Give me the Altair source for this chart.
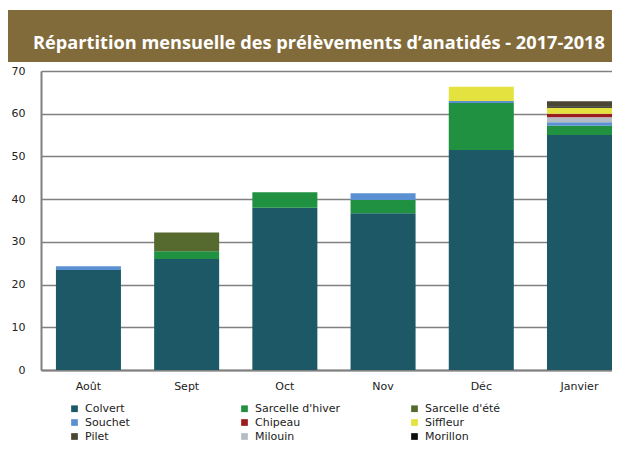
import altair as alt
import pandas as pd

months = ["Août", "Sept", "Oct", "Nov", "Déc", "Janvier"]

# legend order (row-major, 3 columns)
species = ["Colvert", "Sarcelle d'hiver", "Sarcelle d'été",
           "Souchet", "Chipeau", "Siffleur",
           "Pilet", "Milouin", "Morillon"]
colors = ["#1d5866", "#1f9141", "#56692f",
          "#5b90d2", "#9c1d1f", "#e3e23f",
          "#4b4632", "#b4bcc4", "#0e0e10"]
# stacking order from bottom to top
stack_order = ["Colvert", "Sarcelle d'hiver", "Sarcelle d'été", "Souchet",
               "Milouin", "Chipeau", "Siffleur", "Morillon", "Pilet"]

colvert          = [23.4, 26.0, 38.0, 36.7, 51.5, 55.0]
sarcelle_hiver   = [0.0, 1.8, 3.6, 3.1, 11.0, 2.2]
sarcelle_ete     = [0.0, 4.4, 0.0, 0.0, 0.0, 0.0]
souchet          = [0.9, 0.0, 0.0, 1.6, 0.5, 0.8]
chipeau          = [0.0, 0.0, 0.0, 0.0, 0.0, 0.9]
siffleur         = [0.0, 0.0, 0.0, 0.0, 3.3, 1.4]
pilet            = [0.0, 0.0, 0.0, 0.0, 0.0, 1.2]
milouin          = [0.0, 0.0, 0.0, 0.0, 0.0, 1.1]
morillon         = [0.0, 0.0, 0.0, 0.0, 0.0, 0.3]

series = {
    "Colvert": colvert, "Sarcelle d'hiver": sarcelle_hiver,
    "Sarcelle d'été": sarcelle_ete, "Souchet": souchet,
    "Chipeau": chipeau, "Siffleur": siffleur, "Pilet": pilet,
    "Milouin": milouin, "Morillon": morillon,
}

title_text = "Répartition mensuelle des prélèvements d’anatidés - 2017-2018"

rows = []
for sp, vals in series.items():
    for m, v in zip(months, vals):
        if v > 0:
            rows.append({"mois": m, "espece": sp, "valeur": v,
                         "ordre": stack_order.index(sp)})
df = pd.DataFrame(rows)

W, H = 571, 299

bars = alt.Chart(df).mark_bar().encode(
    x=alt.X("mois:N", sort=months, title=None,
            scale=alt.Scale(paddingInner=0.338, paddingOuter=0.076, align=1),
            axis=alt.Axis(labelAngle=0, ticks=False, labelPadding=10,
                          domainColor="#808080", domainWidth=2, grid=False)),
    y=alt.Y("valeur:Q", stack="zero", title=None,
            scale=alt.Scale(domain=[0, 70], nice=False),
            axis=alt.Axis(values=[0, 10, 20, 30, 40, 50, 60, 70], ticks=False,
                          labelPadding=16, grid=True, gridColor="#808080",
                          gridWidth=1.3, domainColor="#808080", domainWidth=2)),
    color=alt.Color("espece:N", scale=alt.Scale(domain=species, range=colors),
                    title=None,
                    legend=alt.Legend(orient="none", legendX=28, legendY=332,
                                      columns=3, direction="horizontal",
                                      symbolType="square",
                                      symbolSize=45, symbolStrokeWidth=0,
                                      gridAlign="all", columnPadding=68,
                                      rowPadding=2, labelOffset=5,
                                      labelFont="DejaVu Sans", labelFontSize=11,
                                      labelColor="#222222", padding=0)),
    order=alt.Order("ordre:Q", sort="ascending"),
)

one = pd.DataFrame({"t": [title_text]})
band = alt.Chart(one).mark_rect(color="#826b3a").encode(
    x=alt.value(-34), x2=alt.value(W + 10),
    y=alt.value(-61), y2=alt.value(-9),
)
title = alt.Chart(one).mark_text(
    color="white", font="Open Sans", fontWeight="bold", fontSize=18.2,
    align="center", baseline="alphabetic",
).encode(text="t:N", x=alt.value(278), y=alt.value(-22))

chart = alt.layer(band, title, bars).properties(
    width=W, height=H,
    autosize=alt.AutoSizeParams(type="none"),
    padding={"left": 33, "top": 63, "right": 0, "bottom": 73},
    background="white",
).configure_view(stroke=None).configure_axis(
    labelFont="DejaVu Sans", labelFontSize=11, labelColor="#222222",
)

chart.save("out.html", embed_options={"renderer": "svg", "actions": False})
